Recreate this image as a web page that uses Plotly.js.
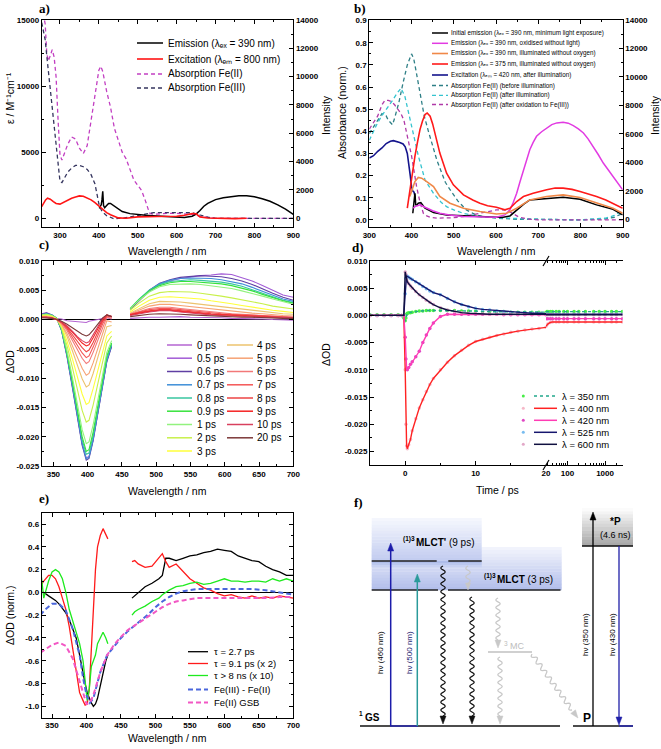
<!DOCTYPE html>
<html><head><meta charset="utf-8">
<script src="https://cdn.plot.ly/plotly-3.0.1.min.js"></script>
<style>html,body{margin:0;padding:0;background:#fff}#chart{width:661px;height:749px}</style>
</head><body><div id="chart"></div>
<script>
// ---------------- Panel a ----------------
const aWlFe2 = [253,258,262,266,270,275,280,285,290,295,300,305,310,320,330,340,350,360,370,380,390,400,405,410,420,430,440,450,460,470,480,490,500,510,520,530,540,560,580,600,620,640,660,680,700,800,900];
const aFe2 = [16000,15200,14700,12500,11900,12300,12750,12200,10700,7500,4800,4400,4800,5600,6150,6000,5300,4900,5500,7400,9500,11200,11500,11100,9600,8400,6800,5900,5000,4500,3700,2900,2500,2100,1300,400,300,350,380,380,350,300,150,50,0,0,0];
const aWlFe3 = [253,258,262,266,270,275,280,285,290,295,300,305,310,320,330,340,350,360,370,380,390,400,405,410,420,430,440,450,460,480,500,520,540,560,580,600,620,640,660,680,700,800,900];
const aFe3 = [14800,14200,13500,12300,11200,9800,8200,6800,5200,3900,2800,2700,3000,3500,3800,4000,4000,3900,3700,3300,2600,1100,700,450,200,50,-50,0,0,100,200,350,430,430,430,430,430,420,250,80,0,0,0];
const aWlEm = [401,404,406,408,410,412,415,420,425,430,440,450,460,480,500,520,550,580,600,620,640,650,660,670,680,690,700,720,740,760,780,800,820,840,860,880,900];
const aEm = [700,850,950,1300,1900,900,750,900,1050,1050,850,650,480,330,260,220,170,120,80,60,150,300,550,850,1050,1200,1320,1450,1540,1590,1590,1520,1380,1200,950,650,280];
const aWlEx = [253,258,263,268,275,283,290,300,310,320,330,340,350,360,370,380,390,400,410,420,430,440,450,470,500,550,600,620,640,650,660,680,700,750,780];
const aEx = [820,1100,1300,1420,1350,1180,1050,1000,1150,1300,1420,1500,1580,1560,1450,1300,1100,850,600,400,250,120,30,0,100,130,150,220,330,320,100,20,0,-20,0];
const aLabels = ['Emission (λₑₓ = 390 nm)', 'Excitation (λₑₘ = 800 nm)', 'Absorption Fe(II)', 'Absorption Fe(III)'];

// ---------------- Panel b ----------------
const bWlInit = [403,405,407,408,410,413,416,422,432,452,483,520,562,600,617,633,649,665,680,720,759,799,838,877,900];
const bInit = [420,900,1500,1830,1010,1000,1130,1175,775,470,305,230,190,150,140,235,660,1050,1360,1480,1550,1410,1010,705,305];
const bWlOx = [404,408,414,420,428,436,450,467,490,523,560,601,621,633,641,649,657,665,672,680,688,696,708,720,732,744,759,771,783,795,807,818,830,842,854,866,877,888,900];
const bOx = [775,890,950,1010,900,775,600,420,300,190,160,140,305,660,1200,1830,2650,3480,4200,4890,5400,5830,6150,6420,6650,6770,6820,6750,6580,6350,6060,5650,5120,4550,3950,3450,3010,2550,2070];
const bWlIll390 = [396,402,408,416,424,436,452,467,491,523,562,601,625,649,680,720,759,799,838,877,900];
const bIll390 = [1600,2200,2650,2940,2890,2650,2300,1600,1130,775,540,375,420,775,1360,1600,1715,1530,1130,775,420];
const bWlIll375 = [390,396,402,408,414,420,426,432,437,444,450,455,467,483,499,523,545,562,580,601,621,633,649,665,688,720,740,759,780,799,820,838,860,877,900];
const bIll375 = [780,2070,3300,4420,5400,6300,6900,7360,7470,7240,6700,6060,4650,3240,2420,1715,1350,1130,950,845,660,775,1245,1600,1830,2070,2200,2190,2100,1950,1780,1600,1350,1130,780];
const bWlExc = [300,310,320,330,340,350,357,365,372,380,385,390,394,397,400,403,406,409];
const bExc = [0.28,0.29,0.31,0.325,0.345,0.355,0.358,0.355,0.35,0.343,0.33,0.3,0.25,0.2,0.15,0.13,0.125,0.1];
const bWlAbsBefore = [300,310,320,330,340,345,350,355,360,370,380,390,400,405,410,420,430,440,450,460,470,480,490,500,510,520,530,550,570,600,650,700,800,860,880,900];
const bAbsBefore = [0.39,0.42,0.45,0.48,0.47,0.45,0.44,0.43,0.46,0.53,0.62,0.70,0.75,0.73,0.68,0.57,0.47,0.40,0.33,0.27,0.22,0.17,0.14,0.11,0.085,0.065,0.045,0.025,0.015,0.008,0.003,0.003,0.0,0.005,0.012,0.03];
const bWlAbsAfter = [300,310,320,333,345,355,365,375,384,390,396,404,416,432,452,470,483,500,522,562,600,700,800,860,880,900];
const bAbsAfter = [0.36,0.40,0.44,0.48,0.51,0.54,0.57,0.595,0.56,0.51,0.47,0.39,0.29,0.18,0.12,0.08,0.06,0.045,0.03,0.015,0.01,0.003,0.0,0.008,0.02,0.045];
const bWlAbsOx = [300,310,320,330,337,345,352,360,368,375,382,388,395,400,406,412,420,428,436,444,460,480,500,522,540,562,580,601,625,640,655,680,700,800,900];
const bAbsOx = [0.41,0.44,0.47,0.52,0.54,0.54,0.535,0.52,0.50,0.48,0.45,0.40,0.34,0.29,0.22,0.15,0.08,0.03,0.018,0.012,0.008,0.008,0.01,0.015,0.022,0.03,0.038,0.045,0.045,0.03,0.012,0.003,0.0,0.0,0.0];
const bLabels = ['Initial emission (λₑₓ = 390 nm, minimum light exposure)', 'Emission (λₑₓ = 390 nm, oxidised without light)',
  'Emission (λₑₓ = 390 nm, illuminated without oxygen)', 'Emission (λₑₓ = 375 nm, illuminated without oxygen)',
  'Excitation (λₑₘ = 420 nm, after illumination)', 'Absorption Fe(II) (before illumination)', 'Absorption Fe(II) (after illumination)',
  'Absorption Fe(II) (after oxidation to Fe(III))'];

// ---------------- Panel c ----------------
const cWl = [333,340,348,355,362,370,378,385,392,398,402,408,415,422,428,435, 448, 462,475,490,505,520,535,550,565,580,595,610,625,640,655,670,685,700];
const cLabels = ['0 ps','0.5 ps','0.6 ps','0.7 ps','0.8 ps','0.9 ps','1 ps','2 ps','3 ps','4 ps','5 ps','6 ps','7 ps','8 ps','9 ps','10 ps','20 ps'];
const cColors = ['#b565d2','#a25bd6','#5f3fa3','#3f8fd8','#39c6a0','#36e23c','#92f27e','#c8f04a','#ffff3a','#ecc36e','#f6a274','#f27878','#f45656','#ec4444','#f52222','#d8405e','#7c3838'];
const c00 = [0.0008,0.0005,0.0003,0.0002,0.0001,-0.0002,-0.0003,-0.0004,-0.0005,-0.0005,-0.0003,-0.0002,0.0000,0.0002,0.0003,0.0001, null, 0.0002,0.0003,0.0004,0.0004,0.0005,0.0005,0.0004,0.0004,0.0003,0.0003,0.0002,0.0002,0.0001,0.0001,0.0000,0.0000,-0.0001];
const c05 = [0.0010,0.0012,0.0008,0.0002,-0.0018,-0.0062,-0.0115,-0.0165,-0.0212,-0.0236,-0.0234,-0.0205,-0.0158,-0.0110,-0.0070,-0.0045, null, 0.0018,0.0032,0.0048,0.0060,0.0066,0.0070,0.0073,0.0075,0.0076,0.0078,0.0077,0.0072,0.0066,0.0058,0.0050,0.0042,0.0038];
const c06 = [0.0009,0.0011,0.0008,0.0002,-0.0019,-0.0064,-0.0118,-0.0168,-0.0215,-0.0240,-0.0237,-0.0207,-0.0160,-0.0112,-0.0072,-0.0046, null, 0.0017,0.0033,0.0050,0.0062,0.0068,0.0072,0.0074,0.0075,0.0074,0.0073,0.0070,0.0066,0.0060,0.0052,0.0045,0.0038,0.0033];
const c07 = [0.0008,0.0010,0.0008,0.0002,-0.0018,-0.0062,-0.0115,-0.0165,-0.0212,-0.0238,-0.0235,-0.0205,-0.0158,-0.0110,-0.0070,-0.0044, null, 0.0018,0.0034,0.0050,0.0061,0.0067,0.0070,0.0071,0.0071,0.0070,0.0068,0.0065,0.0061,0.0055,0.0048,0.0041,0.0035,0.0031];
const c08 = [0.0008,0.0010,0.0007,0.0002,-0.0017,-0.0060,-0.0110,-0.0160,-0.0205,-0.0230,-0.0228,-0.0198,-0.0152,-0.0105,-0.0066,-0.0042, null, 0.0019,0.0035,0.0050,0.0060,0.0065,0.0067,0.0068,0.0067,0.0066,0.0064,0.0061,0.0057,0.0051,0.0045,0.0039,0.0033,0.0029];
const c09 = [0.0008,0.0009,0.0007,0.0002,-0.0016,-0.0058,-0.0107,-0.0155,-0.0200,-0.0225,-0.0222,-0.0192,-0.0147,-0.0100,-0.0062,-0.0040, null, 0.0019,0.0034,0.0049,0.0058,0.0063,0.0065,0.0065,0.0064,0.0063,0.0061,0.0058,0.0054,0.0049,0.0043,0.0037,0.0032,0.0028];
const c1 = [0.0008,0.0009,0.0007,0.0002,-0.0015,-0.0054,-0.0100,-0.0146,-0.0188,-0.0212,-0.0209,-0.0180,-0.0137,-0.0092,-0.0056,-0.0036, null, 0.0019,0.0033,0.0047,0.0056,0.0060,0.0061,0.0061,0.0060,0.0058,0.0056,0.0053,0.0049,0.0045,0.0040,0.0035,0.0030,0.0026];
const c2 = [0.0007,0.0008,0.0006,0.0001,-0.0013,-0.0045,-0.0083,-0.0120,-0.0155,-0.0175,-0.0172,-0.0146,-0.0108,-0.0070,-0.0040,-0.0028, null, 0.0016,0.0028,0.0040,0.0046,0.0048,0.0048,0.0047,0.0045,0.0043,0.0040,0.0037,0.0034,0.0030,0.0027,0.0023,0.0020,0.0018];
const c3 = [0.0006,0.0007,0.0005,0.0001,-0.0011,-0.0037,-0.0068,-0.0098,-0.0127,-0.0145,-0.0142,-0.0118,-0.0085,-0.0052,-0.0028,-0.0020, null, 0.0013,0.0023,0.0033,0.0038,0.0039,0.0038,0.0037,0.0035,0.0032,0.0030,0.0027,0.0024,0.0021,0.0018,0.0016,0.0014,0.0012];
const c4 = [0.0005,0.0006,0.0004,0.0000,-0.0009,-0.0029,-0.0054,-0.0078,-0.0101,-0.0115,-0.0112,-0.0092,-0.0063,-0.0034,-0.0012,-0.0010, null, 0.0011,0.0019,0.0027,0.0031,0.0031,0.0030,0.0028,0.0026,0.0024,0.0022,0.0019,0.0017,0.0015,0.0013,0.0011,0.0010,0.0009];
const c5 = [0.0005,0.0005,0.0004,0.0000,-0.0008,-0.0024,-0.0045,-0.0065,-0.0083,-0.0095,-0.0092,-0.0074,-0.0048,-0.0022,-0.0002,-0.0004, null, 0.0010,0.0016,0.0023,0.0026,0.0026,0.0024,0.0022,0.0020,0.0018,0.0016,0.0014,0.0012,0.0011,0.0010,0.0008,0.0007,0.0006];
const c6 = [0.0004,0.0005,0.0003,0.0000,-0.0006,-0.0019,-0.0036,-0.0052,-0.0066,-0.0075,-0.0072,-0.0056,-0.0034,-0.0012,0.0004,0.0002, null, 0.0009,0.0014,0.0019,0.0021,0.0021,0.0019,0.0017,0.0015,0.0013,0.0012,0.0010,0.0009,0.0008,0.0007,0.0006,0.0005,0.0004];
const c7 = [0.0004,0.0004,0.0003,0.0000,-0.0005,-0.0016,-0.0031,-0.0045,-0.0057,-0.0065,-0.0062,-0.0047,-0.0027,-0.0007,0.0006,0.0004, null, 0.0009,0.0013,0.0017,0.0019,0.0019,0.0017,0.0015,0.0013,0.0011,0.0010,0.0009,0.0008,0.0007,0.0006,0.0005,0.0004,0.0004];
const c8 = [0.0004,0.0004,0.0003,0.0000,-0.0005,-0.0014,-0.0026,-0.0038,-0.0048,-0.0055,-0.0052,-0.0039,-0.0021,-0.0003,0.0007,0.0005, null, 0.0008,0.0012,0.0015,0.0017,0.0017,0.0015,0.0013,0.0011,0.0010,0.0009,0.0008,0.0007,0.0006,0.0005,0.0004,0.0004,0.0003];
const c9 = [0.0004,0.0004,0.0002,0.0000,-0.0004,-0.0012,-0.0022,-0.0032,-0.0040,-0.0045,-0.0043,-0.0031,-0.0015,0.0000,0.0008,0.0005, null, 0.0008,0.0011,0.0014,0.0016,0.0016,0.0014,0.0012,0.0010,0.0009,0.0008,0.0007,0.0006,0.0005,0.0005,0.0004,0.0003,0.0003];
const c10 = [0.0003,0.0004,0.0002,0.0000,-0.0004,-0.0011,-0.0020,-0.0029,-0.0036,-0.0040,-0.0038,-0.0027,-0.0012,0.0002,0.0008,0.0005, null, 0.0007,0.0010,0.0013,0.0015,0.0015,0.0013,0.0011,0.0010,0.0008,0.0007,0.0006,0.0006,0.0005,0.0004,0.0004,0.0003,0.0003];
const c20 = [0.0003,0.0003,0.0002,0.0000,-0.0003,-0.0008,-0.0014,-0.0020,-0.0025,-0.0028,-0.0026,-0.0018,-0.0007,0.0003,0.0008,0.0005, null, 0.0005,0.0007,0.0009,0.0010,0.0010,0.0009,0.0008,0.0007,0.0006,0.0005,0.0005,0.0004,0.0004,0.0003,0.0003,0.0002,0.0002];

// ---------------- Panel d ----------------
const tLin = [-5,-4,-3,-2,-1,-0.5,-0.2,0,0.1,0.2,0.3,0.5,0.75,1,1.5,2,2.5,3,3.5,4,5,6,7,8,9,10,11,12,13,14,15,16,17,18,19,20];
const tLog = [27,30,35,40,50,60,80,100,150,200,300,500,700,1000,1500,2000,2900];
const d350Lin = [0.0001,0.0001,0.0001,0.0001,0.0001,0.0000,-0.0005,-0.0010,-0.0005,0.0002,0.0004,0.0005,0.0005,0.0006,0.0007,0.0008,0.0008,0.0009,0.0009,0.0009,0.0009,0.0009,0.0009,0.0008,0.0008,0.0008,0.0007,0.0007,0.0007,0.0007,0.0006,0.0006,0.0006,0.0006,0.0006,0.0006];
const d350Log = [0.0007,0.0007,0.0007,0.0007,0.0007,0.0007,0.0007,0.0007,0.0007,0.0007,0.0007,0.0007,0.0007,0.0007,0.0007,0.0007,0.0007];
const d400Lin = [0,0,0,0,0,0,0,-0.010,-0.020,-0.0240,-0.0245,-0.0238,-0.0228,-0.0212,-0.0190,-0.0170,-0.0155,-0.0140,-0.0127,-0.0116,-0.0100,-0.0086,-0.0074,-0.0064,-0.0055,-0.0048,-0.0044,-0.0040,-0.0037,-0.0034,-0.0031,-0.0029,-0.0027,-0.0025,-0.0024,-0.0022];
const d400Log = [-0.0020,-0.0016,-0.0013,-0.0012,-0.0012,-0.0012,-0.0012,-0.0012,-0.0012,-0.0012,-0.0012,-0.0012,-0.0012,-0.0012,-0.0012,-0.0012,-0.0012];
const d420Lin = [0,0,0,0,0,0,0,-0.004,-0.008,-0.0098,-0.0100,-0.0096,-0.0090,-0.0085,-0.0076,-0.0066,-0.0050,-0.0036,-0.0024,-0.0014,-0.0002,0.0002,0.0002,0.0002,0.0002,0.0002,0.0002,0.0002,0.0002,0.0001,0.0001,0.0001,0.0001,0.0001,0.0001,0.0001];
const d420Log = [-0.0006,-0.0006,-0.0006,-0.0006,-0.0006,-0.0006,-0.0006,-0.0006,-0.0006,-0.0006,-0.0006,-0.0006,-0.0006,-0.0006,-0.0006,-0.0006,-0.0006];
const d525Lin = [0,0,0,0,0,0,0,0.004,0.0068,0.0073,0.0072,0.0070,0.0068,0.0066,0.0062,0.0058,0.0053,0.0049,0.0045,0.0042,0.0038,0.0031,0.0025,0.0020,0.0016,0.0013,0.0011,0.0010,0.0008,0.0007,0.0006,0.0005,0.0005,0.0004,0.0004,0.0003];
const d525Log = [0.0002,0.0002,0.0002,0.0002,0.0002,0.0002,0.0002,0.0002,0.0002,0.0002,0.0002,0.0002,0.0002,0.0002,0.0002,0.0002,0.0002];
const d600Lin = [0,0,0,0,0,0,0,0.0080,0.0075,0.0066,0.0062,0.0058,0.0054,0.0050,0.0044,0.0038,0.0033,0.0028,0.0024,0.0020,0.0014,0.0010,0.0007,0.0005,0.0004,0.0003,0.0003,0.0002,0.0002,0.0002,0.0002,0.0002,0.0002,0.0002,0.0002,0.0002];
const d600Log = [0.0001,0.0001,0.0001,0.0001,0.0001,0.0001,0.0001,0.0001,0.0001,0.0001,0.0001,0.0001,0.0001,0.0001,0.0001,0.0001,0.0001];
const dLabels = ['λ = 350 nm','λ = 400 nm','λ = 420 nm','λ = 525 nm','λ = 600 nm'];

// ---------------- Panel e ----------------
const eWlUV = [333,338,345,350,355,360,365,370,375,380,385,390,395,398,401,404,407,410,413,416,420,424,428,431];
const eWlVis = [466,470,475,485,495,505,510,515,520,530,540,550,560,570,580,590,600,610,620,630,640,650,660,670,680,690,700];
const eTau27UV = [0.0,0.0,-0.03,-0.05,-0.07,-0.1,-0.14,-0.18,-0.24,-0.32,-0.4,-0.55,-0.72,-0.8,-0.88,-0.93,-0.97,-1.0,-0.98,-0.93,-0.82,-0.7,-0.6,-0.55];
const eTau27Vis = [-0.05,-0.03,0.0,0.05,0.08,0.12,0.15,0.3,0.3,0.28,0.3,0.32,0.33,0.35,0.36,0.38,0.37,0.36,0.32,0.3,0.28,0.27,0.23,0.2,0.18,0.15,0.15];
const eTau91UV = [0.05,0.1,0.15,0.15,0.12,0.05,-0.05,-0.15,-0.3,-0.5,-0.7,-0.88,-0.95,-0.99,-0.98,-0.85,-0.5,-0.1,0.2,0.4,0.5,0.56,0.5,0.47];
const eTau91Vis = [0.27,0.28,0.25,0.22,0.23,0.3,0.34,0.27,0.22,0.25,0.18,0.12,0.08,0.04,0.02,-0.01,-0.03,-0.02,-0.04,-0.05,-0.03,-0.05,-0.04,-0.05,-0.03,-0.04,-0.05];
const eLongUV = [0.22,-0.05,0.1,0.18,0.2,0.18,0.12,0.0,-0.15,-0.25,-0.35,-0.45,-0.6,-0.75,-0.95,-0.85,-0.65,-0.6,-0.55,-0.45,-0.4,-0.35,-0.4,-0.45];
const eLongVis = [-0.2,-0.17,-0.15,-0.12,-0.08,-0.05,-0.02,0.0,0.02,0.05,0.06,0.08,0.09,0.07,0.08,0.1,0.12,0.1,0.1,0.09,0.1,0.1,0.09,0.12,0.1,0.12,0.1];
const eWlRef = [333,340,350,360,370,380,390,395,400,405,410,415,420,430,440,450,460,470,480,490,500,510,520,530,540,550,560,580,600,620,640,660,680,700];
const eDiff = [-0.2,-0.15,-0.1,-0.1,-0.16,-0.32,-0.55,-0.75,-0.9,-0.97,-0.93,-0.82,-0.7,-0.55,-0.47,-0.4,-0.34,-0.29,-0.24,-0.19,-0.13,-0.08,-0.04,-0.01,0.01,0.02,0.03,0.03,0.03,0.03,0.03,0.02,0.0,-0.02];
const eGSB = [-0.53,-0.5,-0.46,-0.44,-0.47,-0.58,-0.78,-0.9,-0.98,-0.97,-0.9,-0.8,-0.7,-0.55,-0.46,-0.39,-0.33,-0.29,-0.25,-0.21,-0.17,-0.13,-0.1,-0.08,-0.07,-0.06,-0.05,-0.05,-0.05,-0.05,-0.05,-0.05,-0.04,-0.04];
const eLabels = ['τ = 2.7 ps', 'τ = 9.1 ps (x 2)', 'τ > 8 ns (x 10)', 'Fe(III) - Fe(II)', 'Fe(II) GSB'];

// ---------------- helpers ----------------
const W = 661, H = 749;
const PX = v => v / W, PY = v => 1 - v / H;
const FONT = 'Liberation Sans, Arial, sans-serif';
const TICKF = {family: FONT, size: 8, color: '#000', weight: 700};
function axis(extra) {
  return Object.assign({
    showline: true, linecolor: '#000', linewidth: 1, ticks: 'inside', ticklen: 4, tickwidth: 1,
    tickcolor: '#000', mirror: 'ticks', showgrid: false, zeroline: false, tickfont: TICKF,
    exponentformat: 'none', fixedrange: true
  }, extra);
}
function fmt(vals, dec) { return vals.map(v => v.toFixed(dec)); }

const traces = [];
function L(x, y, xa, ya, color, width, dash) {
  traces.push({type: 'scatter', mode: 'lines', x: x, y: y, xaxis: xa, yaxis: ya, showlegend: false, hoverinfo: 'skip',
    line: {color: color, width: width || 1.4, dash: dash || 'solid'}});
}
const DASH = '4px,3px';

// Panel a
const aStyles = [['#000000', 1.5, 'solid'], ['#ff1414', 1.6, 'solid'], ['#c23fc2', 1.3, DASH], ['#34345e', 1.3, DASH]];
L(aWlEm, aEm, 'x', 'y2', ...aStyles[0]);
L(aWlEx, aEx, 'x', 'y2', ...aStyles[1]);
L(aWlFe2, aFe2, 'x', 'y', ...aStyles[2]);
L(aWlFe3, aFe3, 'x', 'y', ...aStyles[3]);

// Panel b
const bStyles = [['#000000', 1.5, 'solid'], ['#e23be2', 1.5, 'solid'], ['#f08848', 1.6, 'solid'], ['#ff1a1a', 1.6, 'solid'],
  ['#14148c', 1.6, 'solid'], ['#2e7f86', 1.3, DASH], ['#35c4cf', 1.3, DASH], ['#b03aa8', 1.3, DASH]];
L(bWlInit, bInit, 'x2', 'y4', ...bStyles[0]);
L(bWlOx, bOx, 'x2', 'y4', ...bStyles[1]);
L(bWlIll390, bIll390, 'x2', 'y4', ...bStyles[2]);
L(bWlIll375, bIll375, 'x2', 'y4', ...bStyles[3]);
L(bWlExc, bExc, 'x2', 'y3', ...bStyles[4]);
L(bWlAbsBefore, bAbsBefore, 'x2', 'y3', ...bStyles[5]);
L(bWlAbsAfter, bAbsAfter, 'x2', 'y3', ...bStyles[6]);
L(bWlAbsOx, bAbsOx, 'x2', 'y3', ...bStyles[7]);

// Panel c
const cSeries = [c00, c05, c06, c07, c08, c09, c1, c2, c3, c4, c5, c6, c7, c8, c9, c10, c20];
cSeries.forEach((s, i) => L(cWl, s, 'x3', 'y5', cColors[i], 1.1));

// Panel d
const dLin = [d350Lin, d400Lin, d420Lin, d525Lin, d600Lin];
const dLog = [d350Log, d400Log, d420Log, d525Log, d600Log];
const dMarkColors = ['#46ee46', '#f6b8c8', '#e048c4', '#78bcf0', '#e2a8c8'];
const dLineColors = ['#22a88c', '#ff2222', '#ff3cb4', '#16166e', '#101040'];
dLin.forEach((s, i) => traces.push({type: 'scatter', mode: 'markers', x: tLin, y: s, xaxis: 'x4', yaxis: 'y6', showlegend: false,
  marker: {color: dMarkColors[i], size: 3.5}, hoverinfo: 'skip'}));
dLog.forEach((s, i) => traces.push({type: 'scatter', mode: 'markers', x: tLog, y: s, xaxis: 'x5', yaxis: 'y6', showlegend: false,
  marker: {color: dMarkColors[i], size: 3.5}, hoverinfo: 'skip'}));
dLin.forEach((s, i) => L(tLin, s, 'x4', 'y6', dLineColors[i], 1.4, i === 0 ? 'dot' : 'solid'));
dLog.forEach((s, i) => L(tLog, s, 'x5', 'y6', dLineColors[i], 1.4, i === 0 ? 'dot' : 'solid'));

// Panel e
const eStyles = [['#000000', 1.3, 'solid'], ['#ff1a1a', 1.3, 'solid'], ['#1eea1e', 1.3, 'solid'], ['#4a66dc', 2, '5px,3px'], ['#f257c4', 2, '5px,3px']];
L(eWlUV, eTau27UV, 'x6', 'y8', ...eStyles[0]); L(eWlVis, eTau27Vis, 'x6', 'y8', ...eStyles[0]);
L(eWlUV, eTau91UV, 'x6', 'y8', ...eStyles[1]); L(eWlVis, eTau91Vis, 'x6', 'y8', ...eStyles[1]);
L(eWlUV, eLongUV, 'x6', 'y8', ...eStyles[2]); L(eWlVis, eLongVis, 'x6', 'y8', ...eStyles[2]);
L(eWlRef, eDiff, 'x6', 'y8', ...eStyles[3]);
L(eWlRef, eGSB, 'x6', 'y8', ...eStyles[4]);

// ---------------- layout ----------------
const domA = [PY(227), PY(20)], domC = [PY(466), PY(261)], domD = [PY(465), PY(261)], domE = [PY(717.7), PY(512.7)];
const xLeft = [PX(41.7), PX(293.3)];
const aLeftTicks = [0, 5000, 10000, 15000];
const intTicks = [0, 2000, 4000, 6000, 8000, 10000, 12000, 14000];
const cTickV = [-0.025,-0.020,-0.015,-0.010,-0.005,0,0.005,0.010];
const eTickV = [-1.0,-0.8,-0.6,-0.4,-0.2,0,0.2,0.4,0.6];
const MIN = (d, t0) => ({ticks: 'inside', ticklen: 2, tickcolor: '#000', dtick: d, tick0: t0 || 0});

const layout = {
  width: W, height: H, margin: {l: 0, r: 0, t: 0, b: 0}, paper_bgcolor: '#fff', plot_bgcolor: 'rgba(0,0,0,0)',
  font: {family: FONT, color: '#000'}, showlegend: false,
  xaxis: axis({domain: xLeft, anchor: 'y', range: [253, 900], tick0: 300, dtick: 100, minor: MIN(50)}),
  yaxis: axis({domain: domA, anchor: 'x', range: [-658, 15000], tickmode: 'array', tickvals: aLeftTicks, ticktext: fmt(aLeftTicks, 0), mirror: false, minor: MIN(2500)}),
  yaxis2: axis({overlaying: 'y', anchor: 'x', side: 'right', range: [-614, 14000], tickmode: 'array', tickvals: intTicks, ticktext: fmt(intTicks, 0), mirror: false, minor: MIN(1000)}),
  xaxis2: axis({domain: [PX(369.3), PX(622.7)], anchor: 'y3', range: [300, 900], dtick: 100, minor: MIN(50)}),
  yaxis3: axis({domain: domA, anchor: 'x2', range: [-0.032, 0.903], dtick: 0.1, tickformat: '.1f', mirror: false, minor: MIN(0.05)}),
  yaxis4: axis({overlaying: 'y3', anchor: 'x2', side: 'right', range: [-543, 14000], tickmode: 'array', tickvals: intTicks, ticktext: fmt(intTicks, 0), mirror: false, minor: MIN(1000)}),
  xaxis3: axis({domain: xLeft, anchor: 'y5', range: [333, 700], tick0: 350, dtick: 50, minor: MIN(25)}),
  yaxis5: axis({domain: domC, anchor: 'x3', range: [-0.025, 0.010], tickmode: 'array', tickvals: cTickV, ticktext: fmt(cTickV, 3),
    zeroline: true, zerolinecolor: '#000', zerolinewidth: 1, minor: MIN(0.0025)}),
  xaxis4: axis({domain: [PX(370), PX(546)], anchor: 'y6', range: [-5, 20], tickmode: 'array', tickvals: [0, 10, 20], ticktext: ['0', '10', '20'], minor: MIN(5)}),
  xaxis5: axis({domain: [PX(546), PX(622.7)], anchor: 'y6', type: 'log', range: [1.43, 3.47], tickmode: 'array',
    tickvals: [100, 1000], ticktext: ['100', '1000'],
    minor: {ticks: 'inside', ticklen: 2, tickcolor: '#000', tickmode: 'array', tickvals: [30,40,50,60,70,80,90,200,300,400,500,600,700,800,900,2000]}}),
  yaxis6: axis({domain: domD, anchor: 'x4', range: [-0.0275, 0.010], tickmode: 'array', tickvals: cTickV, ticktext: fmt(cTickV, 3), mirror: false, minor: MIN(0.0025)}),
  yaxis7: axis({overlaying: 'y6', anchor: 'x5', side: 'right', range: [-0.0275, 0.010], tickmode: 'array', tickvals: cTickV, showticklabels: false, mirror: false}),
  xaxis6: axis({domain: xLeft, anchor: 'y8', range: [335, 700], tick0: 350, dtick: 50, minor: MIN(25)}),
  yaxis8: axis({domain: domE, anchor: 'x6', range: [-1.1, 0.7], tickmode: 'array', tickvals: eTickV, ticktext: fmt(eTickV, 1),
    zeroline: true, zerolinecolor: '#000', zerolinewidth: 1, minor: MIN(0.1)}),
  xaxis7: {domain: [PX(330), 1], anchor: 'y9', range: [0, 331], visible: false, fixedrange: true},
  yaxis9: {domain: [0, PY(490)], anchor: 'x7', range: [259, 0], visible: false, fixedrange: true},
  annotations: [], shapes: []
};

const A = layout.annotations, S = layout.shapes;
function note(text, x, y, o) {
  A.push(Object.assign({text: text, x: PX(x), y: PY(y), xref: 'paper', yref: 'paper', showarrow: false,
    xanchor: 'center', yanchor: 'middle', font: {family: FONT, size: 10.5, color: '#000'}}, o || {}));
}
// manual legends (pixel positions) -------------------------------------
function legendRows(labels, styles, x0, x1, tx, ys, size) {
  labels.forEach((lab, i) => {
    const st = styles[i];
    S.push({type: 'line', xref: 'paper', yref: 'paper', x0: PX(x0), x1: PX(x1), y0: PY(ys[i]), y1: PY(ys[i]),
      line: {color: st[0], width: st[1], dash: st[2]}});
    note(lab, tx, ys[i], {xanchor: 'left', font: {family: FONT, size: size, color: '#000'}});
  });
}
legendRows(aLabels, aStyles, 137, 163, 166, [43, 59, 74, 88], 10);
legendRows(bLabels, bStyles, 432, 448, 449, [33, 43.3, 53.5, 64, 75, 85.5, 95.3, 104.5], 6.3);
const cStyles = cColors.map(c => [c, 1.5, 'solid']);
const cRowsY = [345, 358.2, 371.5, 384.8, 398, 411.2, 424.5, 437.8, 451];
legendRows(cLabels.slice(0, 9), cStyles.slice(0, 9), 167, 192, 195, cRowsY, 10);
legendRows(cLabels.slice(9), cStyles.slice(9), 227, 253, 255, cRowsY, 10);
const dRowsY = [396, 408.3, 420.3, 432.3, 444.3];
legendRows(dLabels, dLineColors.map((c, i) => [c, 1.5, i === 0 ? 'dot' : 'solid']), 534, 557, 560, dRowsY, 9.5);
dRowsY.forEach((y, i) => S.push({type: 'circle', xref: 'paper', yref: 'paper', x0: PX(521.8), x1: PX(524.8), y0: PY(y + 1.5), y1: PY(y - 1.5),
  fillcolor: dMarkColors[i], line: {width: 0}}));
legendRows(eLabels, eStyles, 188, 208, 212, [651.7, 663.5, 675.5, 689.5, 702.5], 9.5);

// panel labels
[['a)', 44, 8], ['b)', 360, 8], ['c)', 44, 244], ['d)', 358, 248], ['e)', 44, 498], ['f)', 358, 503]].forEach(p =>
  note('<b>' + p[0] + '</b>', p[1], p[2], {font: {family: 'Liberation Serif, Times New Roman, serif', size: 13, color: '#000'}}));
// axis titles
note('Wavelength / nm', 167, 251);
note('ε / M⁻¹cm⁻¹', 10, 98, {textangle: -90});
note('Intensity', 326, 115, {textangle: -90});
note('Absorbance (norm.)', 342, 112, {textangle: -90});
note('Intensity', 655, 115, {textangle: -90});
note('Wavelength / nm', 496, 251);
note('ΔOD', 10, 362, {textangle: -90});
note('Wavelength / nm', 167, 491);
note('ΔOD', 326, 355, {textangle: -90});
note('Time / ps', 497, 490);
note('ΔOD (norm.)', 10, 615, {textangle: -90});
note('Wavelength / nm', 167, 738);

// axis break marks (panel d)
[261, 465].forEach(r => S.push({type: 'line', xref: 'paper', yref: 'paper', x0: PX(543), y0: PY(r + 5), x1: PX(549), y1: PY(r - 5), line: {color: '#000', width: 1.2}}));

// ---------- panel f schematic (1 unit = 1 px) ----------
function F(o) { return Object.assign({xref: 'x7', yref: 'y9', layer: 'above'}, o); }
function hex(c) { return [parseInt(c.slice(1, 3), 16), parseInt(c.slice(3, 5), 16), parseInt(c.slice(5, 7), 16)]; }
function gradBox(x0, x1, y0, y1, cTop, cBot, n) {
  const a = hex(cTop), b = hex(cBot), h = (y1 - y0) / n;
  for (let i = 0; i < n; i++) {
    const f = i / (n - 1);
    const c = 'rgb(' + a.map((v, k) => Math.round(v + (b[k] - v) * f)).join(',') + ')';
    S.push(F({type: 'rect', x0: x0, x1: x1, y0: y0 + i * h, y1: y0 + (i + 1) * h + 0.3, fillcolor: c, line: {width: 0}, layer: 'below'}));
  }
}
gradBox(41.7, 231.7, 57, 100, '#f1f3fc', '#b3bfeb', 14);
gradBox(41.7, 151.7, 28, 71, '#f4f6fd', '#c3cdf0', 14);
gradBox(41.7, 151.7, 71, 77, '#aebde9', '#c8d2f2', 3);
gradBox(252, 303, 18, 56, '#fbfbfb', '#a9a9a9', 12);
function seg(x0, y0, x1, y1, color, w) { S.push(F({type: 'line', x0: x0, y0: y0, x1: x1, y1: y1, line: {color: color, width: w || 1.5}})); }
seg(41.7, 71, 106.7, 71, '#222'); seg(118.3, 71, 151.7, 71, '#222');
seg(41.7, 100, 108, 100, '#222'); seg(118, 100, 230.5, 100, '#222');
seg(158, 162, 202, 162, '#c0c0c0');
seg(30, 236, 230, 236, '#111'); seg(60, 236, 88, 236, '#2a2ab0');
seg(243, 236, 303, 236, '#111'); seg(289, 236, 303, 236, '#2a2ab0');
seg(252, 56, 303, 56, '#111');

function wavy(x0, y0, x1, y1, amp, half, color, w) {
  const Lh = Math.hypot(x1 - x0, y1 - y0), n = Math.max(2, Math.round(Lh / half));
  const ux = (x1 - x0) / n, uy = (y1 - y0) / n, len = Math.hypot(ux, uy);
  const pxp = -uy / len, pyp = ux / len;
  let d = 'M' + x0 + ',' + y0;
  for (let i = 0; i < n; i++) {
    const s = (i % 2 ? -1 : 1) * amp * 2;
    const cx = x0 + (i + 0.5) * ux + pxp * s, cy = y0 + (i + 0.5) * uy + pyp * s;
    d += ' Q' + cx.toFixed(2) + ',' + cy.toFixed(2) + ' ' + (x0 + (i + 1) * ux).toFixed(2) + ',' + (y0 + (i + 1) * uy).toFixed(2);
  }
  S.push(F({type: 'path', path: d, line: {color: color, width: w || 1.3}}));
}
function head(x0, y0, x1, y1, color, len, wid) {
  const L0 = Math.hypot(x1 - x0, y1 - y0), ux = (x1 - x0) / L0, uy = (y1 - y0) / L0;
  const bx = x1 - ux * len, by = y1 - uy * len, px = -uy * wid / 2, py = ux * wid / 2;
  S.push(F({type: 'path', path: 'M' + x1 + ',' + y1 + ' L' + (bx + px).toFixed(2) + ',' + (by + py).toFixed(2) + ' L' + (bx - px).toFixed(2) + ',' + (by - py).toFixed(2) + ' Z',
    fillcolor: color, line: {color: color, width: 0.5}}));
}
function arrow(x0, y0, x1, y1, color, w) {
  const L0 = Math.hypot(x1 - x0, y1 - y0), ux = (x1 - x0) / L0, uy = (y1 - y0) / L0;
  seg(x0, y0, x1 - ux * 6, y1 - uy * 6, color, w);
  head(x0, y0, x1, y1, color, 8, 6);
}
wavy(113, 76, 113, 226, 2.2, 4, '#111');  head(113, 220, 113, 234, '#111', 8, 6);
wavy(142, 107, 142, 226, 2.2, 4, '#111'); head(142, 220, 142, 234, '#111', 8, 6);
wavy(138, 76, 138, 93, 2.2, 4, '#c8c8c8'); head(138, 90, 138, 100, '#c8c8c8', 7, 5);
wavy(168, 108, 168, 150, 2.2, 4, '#c8c8c8'); head(168, 146, 168, 158, '#c8c8c8', 8, 6);
wavy(170, 167, 170, 226, 2.2, 4, '#c8c8c8'); head(170, 220, 170, 234, '#c8c8c8', 8, 6);
wavy(202, 164, 242, 220, 2.2, 4, '#c8c8c8'); head(238, 215, 248, 228, '#c8c8c8', 8, 6);
arrow(60.7, 236, 60.7, 53, '#1c1caa', 1.5);
arrow(87.3, 236, 87.3, 84, '#2a9a9a', 1.5);
arrow(263, 236, 263, 22, '#000', 1.3);
arrow(289, 56, 289, 235, '#2020a8', 1.3);

function fnote(text, x, y, o) {
  A.push(Object.assign({text: text, x: x, y: y, xref: 'x7', yref: 'y9', showarrow: false, xanchor: 'center', yanchor: 'middle',
    borderpad: 0, font: {family: FONT, size: 10, color: '#000'}}, o || {}));
}
const SUPF = {family: FONT, size: 6.5, color: '#000', weight: 700};
fnote('(1)3', 86, 48.5, {xanchor: 'right', font: SUPF});
fnote("<b>MLCT'</b> (9 ps)", 85, 52, {xanchor: 'left'});
fnote('(1)3', 167, 85.5, {xanchor: 'right', font: SUPF});
fnote('<b>MLCT</b> (3 ps)', 166, 89, {xanchor: 'left'});
fnote('3', 179, 153, {xanchor: 'right', font: {family: FONT, size: 6.5, color: '#bdbdbd'}});
fnote('MC', 178.5, 156, {xanchor: 'left', font: {family: FONT, size: 9, color: '#bdbdbd'}});
fnote('1', 34, 223.5, {xanchor: 'right', font: SUPF});
fnote('<b>GS</b>', 33.5, 227, {xanchor: 'left'});
fnote('<b>P</b>', 257, 228, {font: {family: FONT, size: 12, color: '#000'}});
fnote('<b>*P</b>', 285, 31);
fnote('(4.6 ns)', 285, 45, {font: {family: FONT, size: 9, color: '#000'}});
fnote('hν (460 nm)', 50, 163, {textangle: -90, font: {family: FONT, size: 8, color: '#000'}});
fnote('hν (500 nm)', 79, 163, {textangle: -90, font: {family: FONT, size: 8, color: '#1a1a70'}});
fnote('hν (350 nm)', 255, 145, {textangle: -90, font: {family: FONT, size: 8, color: '#000'}});
fnote('hν (430 nm)', 282, 145, {textangle: -90, font: {family: FONT, size: 8, color: '#000'}});

Plotly.newPlot('chart', traces, layout, {staticPlot: true, displayModeBar: false});
</script></body></html>
